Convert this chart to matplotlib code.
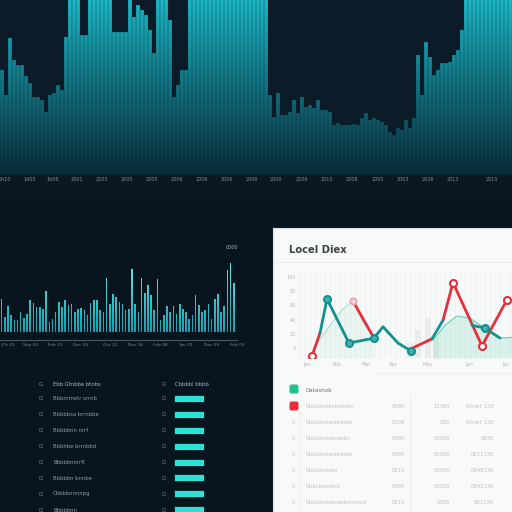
import numpy as np
import matplotlib.pyplot as plt
from matplotlib.colors import LinearSegmentedColormap
from matplotlib.path import Path
from matplotlib.patches import PathPatch, Rectangle, FancyBboxPatch

# --- Colours ---
BG = '#08141e'
TOP_BG = '#0b1c28'
BAND = '#0a1824'
TICK = '#7d8b97'
CYAN = '#2fe0d6'
TEAL = '#14908f'
RED = '#e0313c'
MINT = '#8fdcc6'
PANEL = '#f8f9f9'

# --- Data ---
# top panel: bar heights (panel is 175 tall, taller bars run off the top)
top_heights = [105, 80, 137, 115, 110, 110, 99, 92, 78, 78, 75, 63, 80, 82, 90, 85,
               138, 180, 180, 180, 140, 140, 180, 180, 180, 180, 180, 180, 143, 143, 143, 143,
               180, 158, 170, 165, 160, 145, 122, 180, 180, 180, 155, 78, 90, 105, 105, 180,
               180, 180, 180, 180, 180, 180, 180, 180, 180, 180, 180, 180, 180, 180, 180, 180,
               180, 180, 180, 80, 58, 82, 60, 60, 63, 75, 62, 78, 68, 70, 67, 75,
               65, 65, 63, 50, 52, 50, 50, 50, 51, 50, 57, 62, 55, 57, 55, 53,
               50, 43, 40, 47, 45, 55, 47, 57, 120, 80, 133, 118, 100, 105, 112, 112,
               113, 120, 125, 145, 180, 180, 180, 180, 180, 180, 180, 180, 180, 180, 180, 180]
top_tick_pos = [0.75, 7, 12.75, 18.75, 25, 31.25, 37.5, 43.75, 50, 56.25, 62.5, 68.5,
                75, 81.25, 87.5, 94, 100.25, 106.5, 112.75, 122.5]
top_tick_labels = ['2h10', '1d05', '1b06', '2001', '2003', '2005', '2005', '2006', '2006', '2006',
                   '2006', '2000', '2006', '2010', '2008', '2005', '2003', '2026', '2013', '2015']

# middle-left bar chart
mid_heights = [33, 15, 26, 17, 12, 12, 20, 14, 18, 32, 29, 25, 25, 23, 41, 10,
               13, 20, 30, 25, 32, 27, 28, 20, 23, 24, 22, 17, 29, 32, 32, 22,
               20, 54, 28, 38, 35, 30, 28, 22, 23, 63, 28, 20, 54, 39, 47, 37,
               22, 53, 12, 17, 26, 20, 26, 18, 28, 23, 20, 13, 17, 37, 27, 20,
               22, 28, 13, 33, 38, 20, 26, 62, 69, 49]
mid_tick_pos = [2, 9, 17, 25, 34, 42, 50, 58, 66, 74]
mid_tick_labels = ['2Yr 01', 'Sep 02', 'Feb 15', 'Dec 05', 'Oct 12',
                   'Dec 16', 'Feb 08', 'Jan 02', 'Dec 05', 'Feb 03']

# line chart (right panel)
red_x = [1.2, 2.0, np.nan, 5.3, 7.4, np.nan, 11.1, 13.2, np.nan, 14.3, 15.3, 18.2, 20.7]
red_y = [-11, 21, np.nan, 66, 14, np.nan, -1, 13, np.nan, 39, 92, 3, 68]
teal_x = [2.0, 2.7, 4.9, 7.4, 8.3, 9.8, 11.1, np.nan, 13.2, 14.3, np.nan, 17.2, 18.5, 20.0]
teal_y = [21, 69, 7, 14, 30, 7, -4, np.nan, 13, 39, np.nan, 32, 28, 14]
red_mk_x = [1.2, 15.3, 18.2, 20.7]
red_mk_y = [-11, 92, 3, 68]
teal_mk_x = [2.7, 4.9, 7.4, 11.1, 18.5]
teal_mk_y = [69, 7, 14, -4, 28]
mint1_x = [1.8, 3.0, 4.2, 5.3, 6.3, 7.4]
mint1_y = [8, 32, 54, 66, 37, 14]
mint2_x = [13.3, 14.5, 15.7, 17.0, 18.5, 20.0, 21.2]
mint2_y = [11, 32, 45, 42, 28, 14, 15]
gray_x = [11.0, 11.8, 12.8, 13.6]
gray_h = [21, 39, 56, 30]
line_yticks = [0, 20, 40, 60, 80, 100]
line_xtick_pos = [0.7, 3.7, 6.6, 9.3, 12.8, 16.9, 20.5]
line_xtick_labels = ['Jan', 'Feb', 'Mar', 'Apr', 'May', 'Jun', 'Jul']

# bottom-left table
left_header = ('Ebb Gtnbbe btnbs', 'Cbbbbl bbbb')
left_names = ['Bbbmmetr srrnb', 'Bbbbbsa brrnbbe', 'Bbbbbnn nrrf', 'Bbbhbe brrnbbd',
              'Bbbbbnnrrfl', 'Bbbbbn bnnbe', 'Cbbbbnnnnpg', 'Bbbbbnn']
left_bars = [29, 29, 29, 29, 29, 29, 29, 29]

# bottom-right table
right_header = 'Datashob'
right_names = ['Ghbbbsbbsbsbsbs', 'Ghbbbsbasbrbsbs', 'Ghbbbsbsbsbsbs', 'Ghbbbsbasbrbsbs',
               'Ghbbbsbsbs', 'Ghbsbsbsbrb', 'Ghbbbsbsbsbsbsmsrcd']
right_col2 = ['0580', '0108', '0080', '0085', '0515', '0085', '0515']
right_col3 = ['12365', '030', '03085', '01085', '03050', '03055', '0385']
right_col4 = ['Smart 135', 'Smart 136', '0830', '0611135', '0648136', '0840136', '081136']


def px_axes(fig, x0, y0, x1, y1):
    # axes placed by pixel box (top-left origin) on a 512 px figure
    return fig.add_axes([x0 / 512, 1 - y1 / 512, (x1 - x0) / 512, (y1 - y0) / 512])


def gradient_bars(ax, x, h, width, c0, c1, y0, y1):
    bars = ax.bar(x, h, width=width, color='none', linewidth=0)
    paths = [b.get_path().transformed(b.get_patch_transform()) for b in bars]
    clip = PathPatch(Path.make_compound_path(*paths), transform=ax.transData,
                     facecolor='none', edgecolor='none')
    ax.add_patch(clip)
    cmap = LinearSegmentedColormap.from_list('g', [c0, c1])
    grad = np.linspace(0, 1, 256).reshape(-1, 1)
    xl = ax.get_xlim()
    im = ax.imshow(grad, cmap=cmap, aspect='auto', origin='lower',
                   extent=[xl[0], xl[1], y0, y1], zorder=1)
    im.set_clip_path(clip)
    return bars


fig = plt.figure(figsize=(5.12, 5.12), dpi=100)
fig.patch.set_facecolor(BG)
fig.add_artist(Rectangle((0, 1 - 200 / 512), 1, 25 / 512, transform=fig.transFigure,
                         color=BAND, zorder=0))

# --- Top panel ---
ax = px_axes(fig, 0, 0, 512, 175)
ax.set_facecolor(TOP_BG)
xs = np.arange(len(top_heights))
ax.set_xlim(-0.5, len(top_heights) - 0.5)
ax.set_ylim(0, 175)
gradient_bars(ax, xs, top_heights, 1.0, '#0a2a39', '#1bb8c6', 0, 175)
ax.bar(xs, top_heights, width=1.0, facecolor='none', edgecolor='#07202c',
       linewidth=0.3, alpha=0.45, zorder=2)
ax.set_xlim(-0.5, len(top_heights) - 0.5)
ax.set_ylim(0, 175)
ax.set_xticks(top_tick_pos, top_tick_labels)
ax.tick_params(axis='x', length=0, pad=1.5, labelsize=3.5, labelcolor=TICK)
ax.set_yticks([])
for s in ax.spines.values():
    s.set_visible(False)

# --- Middle-left bar chart ---
ax = px_axes(fig, 0, 245, 237, 340)
ax.set_facecolor('none')
xs = np.arange(len(mid_heights))
ax.set_xlim(-0.5, len(mid_heights) - 0.5)
ax.set_ylim(-8, 87)
gradient_bars(ax, xs, mid_heights, 0.5, '#1a9db2', '#5cf3e5', 0, 70)
ax.set_xlim(-0.5, len(mid_heights) - 0.5)
ax.set_ylim(-8, 87)
ax.set_xticks(mid_tick_pos, mid_tick_labels)
ax.tick_params(axis='x', length=0, pad=2.5, labelsize=3.2, labelcolor=TICK)
ax.set_yticks([])
for k, s in ax.spines.items():
    s.set_visible(k == 'bottom')
ax.spines['bottom'].set_color('#4a5862')
ax.spines['bottom'].set_linewidth(0.8)
ax.text(0.98, 0.97, '0000', transform=ax.transAxes, ha='center', va='center',
        fontsize=3.5, color='#aab4bc')

# --- Bottom-left table ---
ax = px_axes(fig, 0, 372, 260, 512)
ax.set_xlim(0, 260)
ax.set_ylim(512, 372)
ax.set_axis_off()
row_y = [384, 399, 415, 431, 447, 463, 478, 494, 510]
ax.text(41, row_y[0], 'G', fontsize=4, color='#7a8a95', ha='center', va='center')
ax.text(53, row_y[0], left_header[0], fontsize=3.8, color='#a9b5bd', va='center')
ax.text(164, row_y[0], 'G', fontsize=4, color='#7a8a95', ha='center', va='center')
ax.text(175, row_y[0], left_header[1], fontsize=3.8, color='#a9b5bd', va='center')
for y, name in zip(row_y[1:], left_names):
    ax.text(41, y, 'G', fontsize=4, color='#7a8a95', ha='center', va='center')
    ax.text(53, y, name, fontsize=3.8, color='#8e9ca6', va='center')
    ax.text(164, y, 'G', fontsize=4, color='#7a8a95', ha='center', va='center')
ax.barh(row_y[1:], [w + 2 for w in left_bars], left=174, height=8,
        color=CYAN, alpha=0.12, zorder=1)
ax.barh(row_y[1:], left_bars, left=175, height=6, color=CYAN, zorder=2)

# --- Right white panel ---
pan = px_axes(fig, 273, 228, 512, 512)
pan.set_facecolor(PANEL)
pan.set_xlim(273, 512)
pan.set_ylim(512, 228)
pan.set_xticks([])
pan.set_yticks([])
for k, s in pan.spines.items():
    s.set_visible(k in ('left', 'top'))
    s.set_color('#d9dddf')
    s.set_linewidth(0.8)
pan.text(289, 250, 'Locel Diex', fontsize=7.2, fontweight='bold', color='#3d4247',
         va='center')
pan.plot([273, 512], [262, 262], color='#ebeded', lw=0.8)
pan.plot([377, 510], [373, 373], color='#eeeeee', lw=0.8)
pan.plot([410, 410], [395, 512], color='#eeeeee', lw=0.8)
pan.plot([299, 299], [398, 512], color='#f0f0f0', lw=0.8)

pan.add_patch(FancyBboxPatch((289.5, 384.5), 9, 9, boxstyle='round,pad=0,rounding_size=2',
                             color='#1fc08c', lw=0))
pan.add_patch(FancyBboxPatch((289.5, 401.5), 9, 9, boxstyle='round,pad=0,rounding_size=2',
                             color='#e8303a', lw=0))
pan.text(306, 390, right_header, fontsize=4, color='#6a6e72', va='center')
r_rows = [406, 422, 438, 454, 470, 486, 502]
for i, (y, n, c2, c3, c4) in enumerate(zip(r_rows, right_names, right_col2,
                                           right_col3, right_col4)):
    if i > 0:
        pan.text(293, y, '0', fontsize=4, color='#c4c7c9', ha='center', va='center')
    pan.text(306, y, n, fontsize=3.8, color='#bfc2c4', va='center')
    pan.text(405, y, c2, fontsize=3.8, color='#bfc2c4', va='center', ha='right')
    pan.text(450, y, c3, fontsize=3.8, color='#bfc2c4', va='center', ha='right')
    pan.text(494, y, c4, fontsize=3.8, color='#bfc2c4', va='center', ha='right')

# --- Line chart ---
ax = px_axes(fig, 300, 272, 512, 358)
ax.set_facecolor('none')
ax.set_xlim(0, 21.2)
ax.set_ylim(-14, 107)
ax.set_xticks(np.arange(0, 21.2, 0.5), minor=True)
ax.grid(axis='x', which='minor', color='#eef2f2', lw=0.9)
ax.set_axisbelow(True)
ax.bar(gray_x, gray_h, width=0.55, bottom=-14, color='#e9ebec', zorder=1)
ax.fill_between(mint1_x, mint1_y, -14, color=MINT, alpha=0.12, lw=0, zorder=1)
ax.plot(mint1_x, mint1_y, color=MINT, lw=0.8, alpha=0.8, zorder=2)
ax.fill_between(mint2_x, mint2_y, -14, color=MINT, alpha=0.28, lw=0, zorder=1)
ax.plot(mint2_x, mint2_y, color='#6fd3b8', lw=0.9, zorder=2)
ax.plot(red_x, red_y, color=RED, lw=2.0, solid_capstyle='round', zorder=3)
ax.plot(teal_x, teal_y, color=TEAL, lw=2.0, solid_capstyle='round', zorder=4)
ax.plot([5.3], [66], 'o', ms=4.5, mfc='#f6d6d8', mec='#eaa0a5', mew=1.2, zorder=5)
ax.plot(red_mk_x, red_mk_y, 'o', ms=5, mfc='white', mec=RED, mew=1.5, zorder=5)
ax.plot(teal_mk_x, teal_mk_y, 'o', ms=5, mfc='#3fb3b0', mec=TEAL, mew=1.5, zorder=5)
ax.set_yticks(line_yticks, [str(v) for v in line_yticks])
ax.set_xticks(line_xtick_pos, line_xtick_labels)
ax.tick_params(length=0, labelsize=3.5, labelcolor='#b3b6b8', pad=3)
ax.tick_params(axis='x', which='minor', length=0)
for s in ax.spines.values():
    s.set_visible(False)

fig.savefig('out.png', dpi=100, facecolor=BG)
